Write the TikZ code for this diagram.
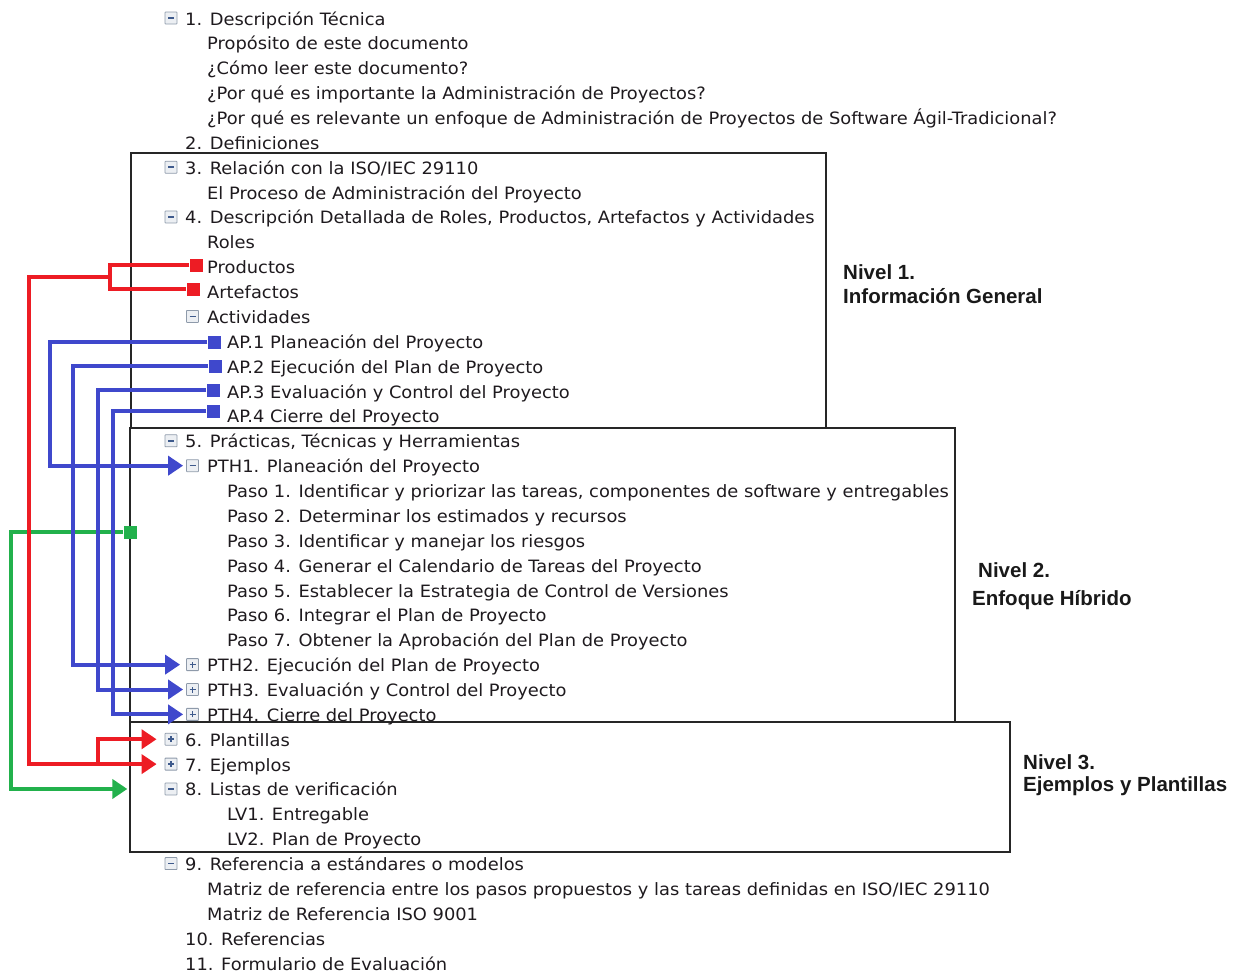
\documentclass[tikz,border=0pt]{standalone}
\usepackage{fontspec}
\setmainfont{DejaVu Sans}[FakeStretch=1.05]
\newfontfamily\lvfam{Liberation Sans}
\usepackage{tikz}
\usetikzlibrary{arrows.meta,fit}
\definecolor{LinkRed}{RGB}{237,28,36}
\definecolor{LinkBlue}{RGB}{63,72,204}
\definecolor{LinkGreen}{RGB}{34,177,76}
\definecolor{TreeText}{HTML}{1E1A1E}
\definecolor{TogEdge}{HTML}{8E9AAA}
\definecolor{TogFill}{HTML}{ECEFF3}
\definecolor{TogSign}{HTML}{3E5A8C}
% row baseline, in pt from the top
\newcommand{\rowy}[1]{(25+24.87*(#1-1))}
\newcommand{\treefnt}{\fontsize{17pt}{20pt}\selectfont}
\newcommand{\lvfnt}{\lvfam\bfseries\fontsize{20.5pt}{24pt}\selectfont}
\tikzset{
  % tree lines
  ln/.style={anchor=base west,inner sep=0pt,font=\treefnt,text=TreeText},
  % level labels
  lv/.style={anchor=base west,inner sep=0pt,font=\lvfnt,text=black!90},
  % level frames
  lvbox/.style={draw=black!85,line width=1.3pt,inner sep=0pt},
  % expand / collapse boxes
  tg/.style={draw=TogEdge,fill=TogFill,minimum size=12pt,inner sep=0pt,
             line width=0.8pt,rounded corners=0.6pt},
  tgm/.style={tg,path picture={
      \draw[TogSign,line width=1.5pt]
        ([xshift=3pt]path picture bounding box.west) --
        ([xshift=-3pt]path picture bounding box.east);}},
  tgp/.style={tg,path picture={
      \draw[TogSign,line width=1.5pt]
        ([xshift=3pt]path picture bounding box.west) --
        ([xshift=-3pt]path picture bounding box.east)
        ([yshift=3pt]path picture bounding box.south) --
        ([yshift=-3pt]path picture bounding box.north);}},
  % link markers
  mk/.style={rectangle,minimum size=13pt,inner sep=0pt},
  mR/.style={mk,fill=LinkRed},
  mB/.style={mk,fill=LinkBlue},
  mG/.style={mk,fill=LinkGreen},
  % links
  lk/.style={line width=4pt},
  lR/.style={lk,draw=LinkRed},
  lB/.style={lk,draw=LinkBlue},
  lG/.style={lk,draw=LinkGreen},
  tip/.style={-{Triangle[length=15pt,width=19pt]}}
}
\begin{document}
\begin{tikzpicture}[x=1pt,y=-1pt]
  \useasboundingbox (0,0) rectangle (1238,975);

  % frames
  \node[lvbox,fit={(131,153) (826,428)}] (bx1) {};
  \node[lvbox,fit={(130,428) (955,722)}] (bx2) {};
  \node[lvbox,fit={(130,722) (1010,852)}] (bx3) {};

  % tree
  \node[tgm] (tg1) at (171,{\rowy{1}-7}) {};
  \node[ln] (L01) at (185,{\rowy{1}})  {1. Descripción Técnica};
  \node[ln] (L02) at (207,{\rowy{2}})  {Propósito de este documento};
  \node[ln] (L03) at (207,{\rowy{3}})  {¿Cómo leer este documento?};
  \node[ln] (L04) at (207,{\rowy{4}})  {¿Por qué es importante la Administración de Proyectos?};
  \node[ln] (L05) at (207,{\rowy{5}})  {¿Por qué es relevante un enfoque de Administración de Proyectos de Software Ágil-Tradicional?};
  \node[ln] (L06) at (185,{\rowy{6}})  {2. Definiciones};
  \node[tgm] (tg3) at (171,{\rowy{7}-7}) {};
  \node[ln] (L07) at (185,{\rowy{7}})  {3. Relación con la ISO/IEC 29110};
  \node[ln] (L08) at (207,{\rowy{8}})  {El Proceso de Administración del Proyecto};
  \node[tgm] (tg4) at (171,{\rowy{9}-7}) {};
  \node[ln] (L09) at (185,{\rowy{9}})  {4. Descripción Detallada de Roles, Productos, Artefactos y Actividades};
  \node[ln] (L10) at (207,{\rowy{10}}) {Roles};
  \node[ln] (L11) at (207,{\rowy{11}}) {Productos};
  \node[ln] (L12) at (207,{\rowy{12}}) {Artefactos};
  \node[tgm] (tgAct) at (192.5,{\rowy{13}-7}) {};
  \node[ln] (L13) at (207,{\rowy{13}}) {Actividades};
  \node[ln] (L14) at (227,{\rowy{14}}) {AP.1 Planeación del Proyecto};
  \node[ln] (L15) at (227,{\rowy{15}}) {AP.2 Ejecución del Plan de Proyecto};
  \node[ln] (L16) at (227,{\rowy{16}}) {AP.3 Evaluación y Control del Proyecto};
  \node[ln] (L17) at (227,{\rowy{17}}) {AP.4 Cierre del Proyecto};
  \node[tgm] (tg5) at (171,{\rowy{18}-7}) {};
  \node[ln] (L18) at (185,{\rowy{18}}) {5. Prácticas, Técnicas y Herramientas};
  \node[tgm] (tgP1) at (192.5,{\rowy{19}-7}) {};
  \node[ln] (L19) at (207,{\rowy{19}}) {PTH1. Planeación del Proyecto};
  \node[ln] (L20) at (227,{\rowy{20}}) {Paso 1. Identificar y priorizar las tareas, componentes de software y entregables};
  \node[ln] (L21) at (227,{\rowy{21}}) {Paso 2. Determinar los estimados y recursos};
  \node[ln] (L22) at (227,{\rowy{22}}) {Paso 3. Identificar y manejar los riesgos};
  \node[ln] (L23) at (227,{\rowy{23}}) {Paso 4. Generar el Calendario de Tareas del Proyecto};
  \node[ln] (L24) at (227,{\rowy{24}}) {Paso 5. Establecer la Estrategia de Control de Versiones};
  \node[ln] (L25) at (227,{\rowy{25}}) {Paso 6. Integrar el Plan de Proyecto};
  \node[ln] (L26) at (227,{\rowy{26}}) {Paso 7. Obtener la Aprobación del Plan de Proyecto};
  \node[tgp] (tgP2) at (192.5,{\rowy{27}-7}) {};
  \node[ln] (L27) at (207,{\rowy{27}}) {PTH2. Ejecución del Plan de Proyecto};
  \node[tgp] (tgP3) at (192.5,{\rowy{28}-7}) {};
  \node[ln] (L28) at (207,{\rowy{28}}) {PTH3. Evaluación y Control del Proyecto};
  \node[tgp] (tgP4) at (192.5,{\rowy{29}-7}) {};
  \node[ln] (L29) at (207,{\rowy{29}}) {PTH4. Cierre del Proyecto};
  \node[tgp] (tg6) at (171,{\rowy{30}-7}) {};
  \node[ln] (L30) at (185,{\rowy{30}}) {6. Plantillas};
  \node[tgp] (tg7) at (171,{\rowy{31}-7}) {};
  \node[ln] (L31) at (185,{\rowy{31}}) {7. Ejemplos};
  \node[tgm] (tg8) at (171,{\rowy{32}-7}) {};
  \node[ln] (L32) at (185,{\rowy{32}}) {8. Listas de verificación};
  \node[ln] (L33) at (227,{\rowy{33}}) {LV1. Entregable};
  \node[ln] (L34) at (227,{\rowy{34}}) {LV2. Plan de Proyecto};
  \node[tgm] (tg9) at (171,{\rowy{35}-7}) {};
  \node[ln] (L35) at (185,{\rowy{35}}) {9. Referencia a estándares o modelos};
  \node[ln] (L36) at (207,{\rowy{36}}) {Matriz de referencia entre los pasos propuestos y las tareas definidas en ISO/IEC 29110};
  \node[ln] (L37) at (207,{\rowy{37}}) {Matriz de Referencia ISO 9001};
  \node[ln] (L38) at (185,{\rowy{38}}) {10. Referencias};
  \node[ln] (L39) at (185,{\rowy{39}}) {11. Formulario de Evaluación};

  % levels
  \node[lv] (nv1a) at (843,279) {Nivel 1.};
  \node[lv] (nv1b) at (843,303) {Información General};
  \node[lv] (nv2a) at (978,577) {Nivel 2.};
  \node[lv] (nv2b) at (972,605) {Enfoque Híbrido};
  \node[lv] (nv3a) at (1023,769) {Nivel 3.};
  \node[lv] (nv3b) at (1023,791) {Ejemplos y Plantillas};

  % markers
  \node[mR] (mProd) at (196,265) {};
  \node[mR] (mArte) at (193,289) {};
  \node[mB] (mAP1) at (214,342) {};
  \node[mB] (mAP2) at (215,366) {};
  \node[mB] (mAP3) at (213,390) {};
  \node[mB] (mAP4) at (213,411) {};
  \node[mG] (mLV)  at (130,532) {};

  % links
  \draw[lG,tip,shorten >=2pt] (mLV.west) -- ++(-112,0) |- (bx3.west |- tg8);
  \draw[lR] (mProd.west) -- ++(-79,0) coordinate (rTop) |- (mArte.west);
  \draw[lR,tip,shorten >=8pt] ([yshift=-12pt]rTop) -- ++(-81,0) |- (tg7.west);
  \draw[lR,tip,shorten >=8pt] ([xshift=-67pt]tg7.west) |- (tg6.west);
  \draw[lB,tip,shorten >=3pt] (mAP1.west) -- ++(-157,0) |- (tgP1.west);
  \draw[lB,tip,shorten >=6pt] (mAP2.west) -- ++(-135.5,0) |- (tgP2.west);
  \draw[lB,tip,shorten >=3pt] (mAP3.west) -- ++(-108.5,0) |- (tgP3.west);
  \draw[lB,tip,shorten >=3pt] (mAP4.west) -- ++(-93.5,0) |- (tgP4.west);
\end{tikzpicture}
\end{document}
